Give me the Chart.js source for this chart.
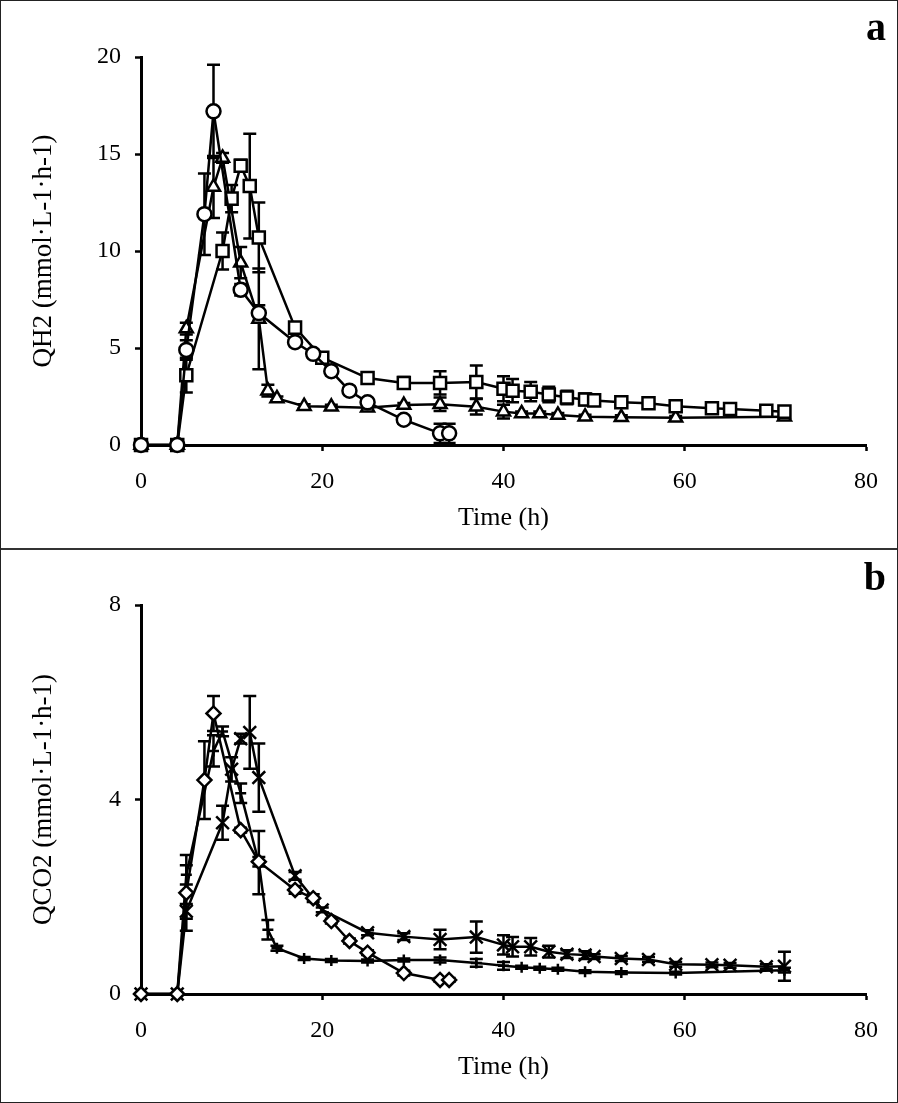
<!DOCTYPE html>
<html>
<head>
<meta charset="utf-8">
<script src="https://cdn.jsdelivr.net/npm/chart.js@4.4.0/dist/chart.umd.min.js"></script>
<style>
html, body { margin: 0; padding: 0; background: #fff; }
#frame { position: relative; width: 898px; height: 1103px; overflow: hidden; }
#frame canvas { position: absolute; left: 0; }
#border { position: absolute; left: 0; top: 0; width: 898px; height: 1103px; box-sizing: border-box; border: 1px solid #222; }
#sep { position: absolute; left: 0; top: 548px; width: 898px; height: 2px; background: #333; }
</style>
</head>
<body>
<div id="frame">
    <canvas id="chart-h2" width="898" height="548" style="top:0;"></canvas>
    <canvas id="chart-co2" width="898" height="547" style="top:550px;"></canvas>
    <div id="sep"></div>
    <div id="border"></div>
</div>
<script>
// Tiempos de muestreo (h) de cada serie
const time1 = [0, 4, 5, 7, 8, 11, 13, 17, 19, 21, 23, 25, 29, 33, 34];
const time2 = [0, 4, 5, 9, 10, 11, 12, 13, 17, 20, 25, 29, 33, 37, 40, 41, 43, 45, 47, 49, 50, 53, 56, 59, 63, 65, 69, 71];
const time3 = [0, 4, 5, 8, 9, 11, 13, 14, 15, 18, 21, 25, 29, 33, 37, 40, 42, 44, 46, 49, 53, 59, 71];

// Panel a: QH2
const h2Circle    = [0, 0, 4.9, 11.9, 17.2, 8.0, 6.8, 5.3, 4.7, 3.8, 2.8, 2.2, 1.3, 0.6, 0.6];
const h2CircleErr = [0, 0, 0.5, 2.1, 2.4, 0.3, 0.4, 0.2, 0.2, 0.2, 0.2, 0.2, 0.2, 0.5, 0.5];
const h2Square    = [0, 0, 3.6, 10.0, 12.7, 14.4, 13.35, 10.7, 6.05, 4.5, 3.45, 3.2, 3.2, 3.25, 2.9, 2.8, 2.75, 2.6, 2.45, 2.35, 2.3, 2.2, 2.15, 2.0, 1.9, 1.85, 1.77, 1.72];
const h2SquareErr = [0, 0, 0.9, 0.95, 0.7, 0.3, 2.7, 1.8, 0.2, 0.2, 0.2, 0.3, 0.6, 0.85, 0.65, 0.6, 0.5, 0.4, 0.35, 0.3, 0.2, 0.15, 0.15, 0.2, 0.15, 0.15, 0.15, 0.2];
const h2Triangle    = [0, 0, 6.0, 13.3, 14.8, 9.4, 6.5, 2.8, 2.4, 2.0, 1.97, 1.92, 2.06, 2.1, 1.97, 1.72, 1.63, 1.63, 1.55, 1.46, 1.43, 1.4, 1.45];
const h2TriangleErr = [0, 0, 0.3, 1.6, 0.25, 0.8, 2.6, 0.3, 0.1, 0.1, 0.1, 0.1, 0.1, 0.35, 0.4, 0.35, 0.1, 0.1, 0.1, 0.1, 0.1, 0.1, 0.1];

// Panel b: QCO2
const co2Diamond    = [0, 0, 2.08, 4.4, 5.77, 3.37, 2.72, 2.14, 1.97, 1.5, 1.09, 0.85, 0.43, 0.29, 0.29];
const co2DiamondErr = [0, 0, 0.78, 0.8, 0.36, 0.05, 0.1, 0.08, 0.08, 0.05, 0.05, 0.05, 0.05, 0.04, 0.04];
const co2Cross    = [0, 0, 1.7, 3.52, 4.62, 5.25, 5.38, 4.45, 2.43, 1.73, 1.26, 1.18, 1.12, 1.17, 1.01, 0.97, 0.97, 0.87, 0.82, 0.8, 0.77, 0.73, 0.71, 0.61, 0.6, 0.59, 0.56, 0.57];
const co2CrossErr = [0, 0, 0.15, 0.35, 0.25, 0.1, 0.75, 0.7, 0.08, 0.05, 0.05, 0.07, 0.2, 0.32, 0.2, 0.2, 0.18, 0.12, 0.08, 0.08, 0.05, 0.05, 0.05, 0.05, 0.05, 0.05, 0.05, 0.3];
const co2Plus    = [0, 0, 2.45, 5.0, 5.4, 4.13, 2.7, 1.32, 0.94, 0.73, 0.69, 0.68, 0.7, 0.7, 0.64, 0.58, 0.55, 0.53, 0.51, 0.46, 0.44, 0.43, 0.49];
const co2PlusErr = [0, 0, 0.2, 0.32, 0.1, 0.2, 0.65, 0.2, 0.05, 0.03, 0.03, 0.03, 0.03, 0.05, 0.08, 0.08, 0.03, 0.03, 0.03, 0.03, 0.03, 0.03, 0.05];

const FONT = '"Liberation Serif", "Times New Roman", serif';

// Barras de error verticales con remate, dibujadas debajo de los marcadores
const errorBars = {
    id: 'errorBars',
    beforeDatasetsDraw(chart) {
        const ctx = chart.ctx;
        const yScale = chart.scales.y;
        ctx.save();
        ctx.strokeStyle = '#000';
        ctx.lineWidth = 2.5;
        chart.data.datasets.forEach((ds, di) => {
            const meta = chart.getDatasetMeta(di);
            meta.data.forEach((pt, i) => {
                const e = ds.errors[i];
                if (!e) return;
                const top = yScale.getPixelForValue(ds.data[i].y + e);
                const bot = yScale.getPixelForValue(ds.data[i].y - e);
                ctx.beginPath();
                ctx.moveTo(pt.x, top); ctx.lineTo(pt.x, bot);
                ctx.moveTo(pt.x - 6.5, top); ctx.lineTo(pt.x + 6.5, top);
                ctx.moveTo(pt.x - 6.5, bot); ctx.lineTo(pt.x + 6.5, bot);
                ctx.stroke();
            });
        });
        ctx.restore();
    }
};

// Letra del panel (a / b) arriba a la derecha
const panelLetter = {
    id: 'panelLetter',
    afterDraw(chart, args, opts) {
        const ctx = chart.ctx;
        ctx.save();
        ctx.fillStyle = '#000';
        ctx.font = 'bold 40px ' + FONT;
        ctx.textAlign = 'right';
        ctx.textBaseline = 'alphabetic';
        ctx.fillText(opts.text, 886, opts.y);
        ctx.restore();
    }
};

function series(times, values, errors, style, radius) {
    return {
        data: times.map((t, i) => ({ x: t, y: values[i] })),
        errors: errors,
        borderColor: '#000',
        borderWidth: 2.5,
        pointStyle: style,
        pointRadius: radius,
        pointBorderWidth: 2.5,
        pointBorderColor: '#000',
        pointBackgroundColor: '#fff',
        tension: 0,
        fill: false,
        clip: false
    };
}

function makePanel(id, datasets, yMax, yStep, yTitle, letter, topPad) {
    return new Chart(document.getElementById(id), {
        type: 'line',
        data: { datasets },
        plugins: [errorBars, panelLetter],
        options: {
            responsive: false,
            animation: false,
            devicePixelRatio: 1,
            layout: { padding: { top: topPad, right: 32, left: 0, bottom: 0 } },
            plugins: {
                legend: { display: false },
                tooltip: { enabled: false },
                panelLetter: { text: letter, y: 40 }
            },
            scales: {
                x: {
                    type: 'linear',
                    min: 0, max: 80,
                    ticks: { stepSize: 20, color: '#000', padding: 16, font: { family: FONT, size: 24 } },
                    grid: { drawOnChartArea: false, color: '#000', tickLength: 6, tickWidth: 2.5 },
                    border: { color: '#000', width: 3 },
                    title: { display: true, text: 'Time (h)', color: '#000', padding: { bottom: 14 }, font: { family: FONT, size: 26 } },
                    afterFit: s => { s.height = 103; }
                },
                y: {
                    min: 0, max: yMax,
                    ticks: { stepSize: yStep, color: '#000', padding: 14, font: { family: FONT, size: 24 } },
                    grid: { drawOnChartArea: false, color: '#000', tickLength: 6, tickWidth: 2.5 },
                    border: { color: '#000', width: 3 },
                    title: { display: true, text: yTitle, color: '#000', padding: { top: 28 }, font: { family: FONT, size: 27 } },
                    afterFit: s => { s.width = 141; }
                }
            }
        }
    });
}

makePanel('chart-h2', [
    series(time1, h2Circle, h2CircleErr, 'circle', 7),
    series(time2, h2Square, h2SquareErr, 'rect', 8.5),
    series(time3, h2Triangle, h2TriangleErr, 'triangle', 7.5)
], 20, 5, 'QH2 (mmol·L-1·h-1)', 'a', 57);

makePanel('chart-co2', [
    series(time1, co2Diamond, co2DiamondErr, 'rectRot', 7),
    series(time2, co2Cross, co2CrossErr, 'crossRot', 9),
    series(time3, co2Plus, co2PlusErr, 'cross', 5.5)
], 8, 4, 'QCO2 (mmol·L-1·h-1)', 'b', 55);
</script>
</body>
</html>
